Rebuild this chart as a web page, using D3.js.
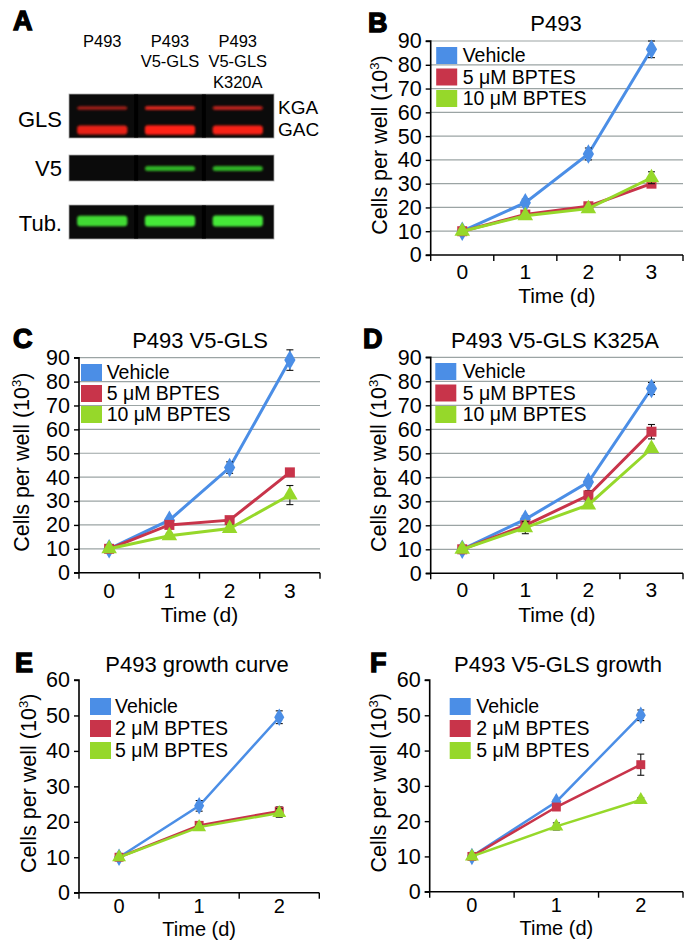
<!DOCTYPE html>
<html><head><meta charset="utf-8">
<script src="https://cdn.jsdelivr.net/npm/d3@7"></script>
<style>body{margin:0;background:#fff}svg{display:block}</style>
</head><body>
<script>
// ---------- DATA ----------
const daysBCD = ["0","1","2","3"];
const daysEF = ["0","1","2"];
const yTicks90 = [0,10,20,30,40,50,60,70,80,90];
const yTicks60 = [0,10,20,30,40,50,60];
const legendBCD = ["Vehicle","5 \u03BCM BPTES","10 \u03BCM BPTES"];
const legendEF = ["Vehicle","2 \u03BCM BPTES","5 \u03BCM BPTES"];

// Panel B: P493
const bVehicle = [10, 22, 42.5, 86.5];
const bVehicleErr = [0.5, 1.5, 2.5, 3.5];
const b5uM = [10, 17, 20.5, 30];
const b5uMErr = [0.5, 1, 1, 1.5];
const b10uM = [10, 16.5, 19.5, 32.5];
const b10uMErr = [0.5, 1, 1, 2.5];

// Panel C: P493 V5-GLS
const cVehicle = [10, 22, 44, 89];
const cVehicleErr = [0.5, 1, 2.4, 4.3];
const c5uM = [10, 20, 22, 42];
const c5uMErr = [0.5, 1, 1, 1];
const c10uM = [10, 15.5, 18.5, 32.5];
const c10uMErr = [0.5, 1, 1.5, 4];

// Panel D: P493 V5-GLS K325A
const dVehicle = [10, 22.5, 38, 77];
const dVehicleErr = [0.5, 1.5, 1.5, 2.5];
const d5uM = [10, 20, 32.5, 59];
const d5uMErr = [0.5, 1, 2, 3];
const d10uM = [10, 19, 28.5, 52];
const d10uMErr = [0.5, 2.5, 1, 1];

// Panel E: P493 growth curve
const eVehicle = [10, 24.5, 49.5];
const eVehicleErr = [0.3, 1.5, 1.8];
const e2uM = [10, 19, 23];
const e2uMErr = [0.3, 0.6, 1.2];
const e5uM = [10, 18.5, 22.5];
const e5uMErr = [0.3, 0.6, 1.2];

// Panel F: P493 V5-GLS growth
const fVehicle = [10, 25.5, 50];
const fVehicleErr = [0.3, 0.6, 1.5];
const f2uM = [10, 24, 36];
const f2uMErr = [0.3, 0.6, 3];
const f5uM = [10, 18.5, 26];
const f5uMErr = [0.3, 1, 0.6];

// Panel A: western blot
const blotLanes = [["P493"], ["P493","V5-GLS"], ["P493","V5-GLS","K320A"]];
const kgaIntensity = [0.5, 0.85, 0.65];
const gacIntensity = [0.85, 1.0, 0.95];
const v5Intensity = [0.0, 0.75, 0.75];
const tubIntensity = [0.9, 1.0, 1.0];

// ---------- STYLE ----------
const FONT = "'Liberation Sans', Arial, Helvetica, sans-serif";
const COLORS = ["#4b8ee6", "#c8344a", "#96d82a"];
const SHAPES = [d3.symbolDiamond, d3.symbolSquare, d3.symbolTriangle];

const svg = d3.select("body").append("svg").attr("width", 696).attr("height", 945)
  .style("font-family", FONT);

const defs = svg.append("defs");
defs.append("filter").attr("id","blur").attr("x","-20%").attr("y","-100%").attr("width","140%").attr("height","300%")
  .append("feGaussianBlur").attr("stdDeviation", 1.3);

function panelLetter(letter, x, y) {
  svg.append("text").attr("x", x).attr("y", y).text(letter)
    .attr("font-size", 27).attr("font-weight", 900)
    .attr("stroke", "#000").attr("stroke-width", 1.4).attr("fill", "#000");
}

// ---------- PANEL A ----------
(function drawBlot(){
  panelLetter("A", 13, 30);
  const lane = d3.scaleBand().domain(d3.range(3)).range([67, 273]).paddingInner(0.2).paddingOuter(0.12);
  const bx0 = 69, bx1 = 274;
  blotLanes.forEach((lines, i) => {
    lines.forEach((t, j) => {
      svg.append("text").attr("x", lane(i) + lane.bandwidth()/2).attr("y", 47 + j*20.3)
        .attr("text-anchor","middle").attr("font-size", 16.5).text(t);
    });
  });
  const blots = [
    {y0: 94, y1: 138, label: "GLS", ly: 127, bands: [
      {cy: 108, h: 4, vals: kgaIntensity, color: "#e8281e"},
      {cy: 130, h: 8.5, vals: gacIntensity, color: "#ff2414"}]},
    {y0: 155, y1: 181, label: "V5", ly: 176, bands: [
      {cy: 168.5, h: 5, vals: v5Intensity, color: "#38d02a"}]},
    {y0: 205, y1: 239, label: "Tub.", ly: 231, bands: [
      {cy: 221, h: 10, vals: tubIntensity, color: "#44e838"}]}
  ];
  blots.forEach(b => {
    svg.append("rect").attr("x", bx0).attr("y", b.y0).attr("width", bx1 - bx0).attr("height", b.y1 - b.y0)
      .attr("fill", "#0b0b0b").attr("stroke", "#aaa").attr("stroke-width", 0.8);
    [1,2].forEach(i => {
      svg.append("rect").attr("x", lane(i) - lane.step()*lane.paddingInner()/2 - 2).attr("y", b.y0 + 0.5)
        .attr("width", 4).attr("height", b.y1 - b.y0 - 1).attr("fill", "#000");
    });
    const g = svg.append("g").attr("filter", "url(#blur)");
    b.bands.forEach(band => {
      band.vals.forEach((v, i) => {
        if (v <= 0) return;
        const h = band.h * (0.75 + 0.35 * v);
        g.append("rect").attr("x", lane(i) + 2).attr("width", lane.bandwidth() - 4)
          .attr("y", band.cy - h/2).attr("height", h).attr("rx", 3)
          .attr("fill", band.color).attr("opacity", 0.35 + 0.65 * v);
      });
    });
    svg.append("text").attr("x", 62).attr("y", b.ly).attr("text-anchor", "end")
      .attr("font-size", 22).text(b.label);
  });
  svg.append("text").attr("x", 278).attr("y", 114).attr("font-size", 19).text("KGA");
  svg.append("text").attr("x", 278).attr("y", 136).attr("font-size", 19).text("GAC");
})();

// ---------- LINE PANELS ----------
function drawPanel(p) {
  panelLetter(p.letter, p.lx, p.ly);
  const x = d3.scaleBand().domain(p.cats).range([p.x0, p.x1]);
  const y = d3.scaleLinear().domain([0, p.ymax]).range([p.yb, p.yt]);
  const g = svg.append("g");

  g.append("text").attr("x", p.tx).attr("y", p.ty).attr("text-anchor","middle")
    .attr("font-size", 22).text(p.title);

  if (p.grid) {
    g.append("g").selectAll("line").data(p.yticks.filter(d => d > 0)).join("line")
      .attr("x1", p.x0).attr("x2", p.x1).attr("y1", d => y(d)).attr("y2", d => y(d))
      .attr("stroke", "#9ba4a4").attr("stroke-width", 1.2);
  }

  const yAxis = d3.axisLeft(y).tickValues(p.yticks).tickSize(5).tickPadding(4);
  const ya = g.append("g").attr("transform", `translate(${p.x0},0)`).call(yAxis);
  ya.select(".domain").attr("stroke-width", 1.6).attr("d", `M-5,${y(p.ymax)}H0V${p.yb}`);
  ya.selectAll(".tick line").attr("stroke-width", 1.4);
  ya.selectAll(".tick text").attr("font-size", 21.5).attr("font-family", FONT).attr("fill", "#000");

  g.append("line").attr("x1", p.x0 - 5).attr("x2", p.x1).attr("y1", p.yb).attr("y2", p.yb)
    .attr("stroke", "#000").attr("stroke-width", 1.6);
  const bounds = p.cats.map(c => x(c)).concat([p.x1]);
  g.append("g").selectAll("line").data(bounds).join("line")
    .attr("x1", d => d).attr("x2", d => d).attr("y1", p.yb).attr("y2", p.yb + 6)
    .attr("stroke", "#000").attr("stroke-width", 1.4);
  g.append("g").selectAll("text").data(p.cats).join("text")
    .attr("x", d => x(d) + x.bandwidth()/2).attr("y", p.yb + p.xlabOff)
    .attr("text-anchor","middle").attr("font-size", p.xfs).text(d => d);
  g.append("text").attr("x", (p.x0 + p.x1)/2).attr("y", p.yb + p.xtitleOff)
    .attr("text-anchor","middle").attr("font-size", p.xfs).text("Time (d)");

  const yt = g.append("text").attr("transform", `translate(${p.x0 + p.ytitleDx},${(p.yt + p.yb)/2 - 3}) rotate(-90)`)
    .attr("text-anchor","middle").attr("font-size", 21.5);
  yt.append("tspan").text("Cells per well (10");
  yt.append("tspan").attr("font-size", 13).attr("dy", -8).text("3");
  yt.append("tspan").attr("dy", 8).text(")");

  const cx = d => x(d) + x.bandwidth()/2;
  p.series.forEach((s, k) => {
    const pts = s.vals.map((v, i) => ({cat: p.cats[i], v, e: s.err[i]}));
    const sg = g.append("g");
    sg.append("path").datum(pts)
      .attr("d", d3.line().x(d => cx(d.cat)).y(d => y(d.v)))
      .attr("fill","none").attr("stroke", COLORS[k]).attr("stroke-width", p.lw);
    const eb = sg.append("g").selectAll("g").data(pts).join("g");
    eb.append("line").attr("x1", d => cx(d.cat)).attr("x2", d => cx(d.cat))
      .attr("y1", d => y(d.v - d.e)).attr("y2", d => y(d.v + d.e)).attr("stroke", "#111").attr("stroke-width", 1.1);
    [-1, 1].forEach(sgn => {
      eb.append("line").attr("x1", d => cx(d.cat) - 3.5).attr("x2", d => cx(d.cat) + 3.5)
        .attr("y1", d => y(d.v + sgn * d.e)).attr("y2", d => y(d.v + sgn * d.e))
        .attr("stroke", "#111").attr("stroke-width", 1.1);
    });
    const sizes = [p.msize * 1.1, p.msize, p.msize * 1.05];
    sg.selectAll("path.m").data(pts).join("path").attr("class","m")
      .attr("transform", d => `translate(${cx(d.cat)},${y(d.v)})`)
      .attr("d", d3.symbol().type(SHAPES[k]).size(sizes[k]))
      .attr("fill", COLORS[k]);
  });

  const lg = g.append("g");
  p.legend.forEach((t, i) => {
    const ry = p.legY + i * p.legStep;
    lg.append("rect").attr("x", p.x0 + p.legSx).attr("y", ry).attr("width", 21).attr("height", 17)
      .attr("fill", COLORS[i]);
    lg.append("text").attr("x", p.x0 + p.legTx).attr("y", ry + 15).attr("font-size", 19.5).text(t);
  });
}

drawPanel({letter:"B", lx:368, ly:32, title:"P493", tx:556, ty:31,
  cats: daysBCD, yticks: yTicks90, ymax: 90, x0: 430.7, x1: 683, yt: 41, yb: 255, grid: true,
  xlabOff: 24, xtitleOff: 48, xfs: 21, ytitleDx: -44, lw: 3, msize: 100,
  legend: legendBCD, legY: 47, legStep: 21.5, legSx: 5.5, legTx: 32,
  series: [{vals: bVehicle, err: bVehicleErr}, {vals: b5uM, err: b5uMErr}, {vals: b10uM, err: b10uMErr}]});

drawPanel({letter:"C", lx:13, ly:348, title:"P493 V5-GLS", tx:200, ty:348,
  cats: daysBCD, yticks: yTicks90, ymax: 90, x0: 79, x1: 320, yt: 357.7, yb: 572.7, grid: true,
  xlabOff: 25, xtitleOff: 49, xfs: 21, ytitleDx: -50, lw: 3, msize: 100,
  legend: legendBCD, legY: 364, legStep: 21, legSx: 2, legTx: 27.7,
  series: [{vals: cVehicle, err: cVehicleErr}, {vals: c5uM, err: c5uMErr}, {vals: c10uM, err: c10uMErr}]});

drawPanel({letter:"D", lx:363, ly:348, title:"P493 V5-GLS K325A", tx:555, ty:348,
  cats: daysBCD, yticks: yTicks90, ymax: 90, x0: 430.7, x1: 683, yt: 357.3, yb: 573.3, grid: true,
  xlabOff: 24, xtitleOff: 49, xfs: 21, ytitleDx: -45, lw: 3, msize: 100,
  legend: legendBCD, legY: 363, legStep: 21.5, legSx: 4.6, legTx: 32,
  series: [{vals: dVehicle, err: dVehicleErr}, {vals: d5uM, err: d5uMErr}, {vals: d10uM, err: d10uMErr}]});

drawPanel({letter:"E", lx:15, ly:672, title:"P493 growth curve", tx:197, ty:672,
  cats: daysEF, yticks: yTicks60, ymax: 60, x0: 79, x1: 319.3, yt: 680, yb: 892.7, grid: false,
  xlabOff: 20, xtitleOff: 43, xfs: 20, ytitleDx: -43, lw: 2.5, msize: 80,
  legend: legendEF, legY: 698, legStep: 22, legSx: 11, legTx: 36,
  series: [{vals: eVehicle, err: eVehicleErr}, {vals: e2uM, err: e2uMErr}, {vals: e5uM, err: e5uMErr}]});

drawPanel({letter:"F", lx:370, ly:672, title:"P493 V5-GLS growth", tx:558, ty:672,
  cats: daysEF, yticks: yTicks60, ymax: 60, x0: 429.7, x1: 683, yt: 680, yb: 891.7, grid: false,
  xlabOff: 20, xtitleOff: 43, xfs: 20, ytitleDx: -44, lw: 2.5, msize: 80,
  legend: legendEF, legY: 698, legStep: 22, legSx: 20, legTx: 46.6,
  series: [{vals: fVehicle, err: fVehicleErr}, {vals: f2uM, err: f2uMErr}, {vals: f5uM, err: f5uMErr}]});
</script>
</body></html>
